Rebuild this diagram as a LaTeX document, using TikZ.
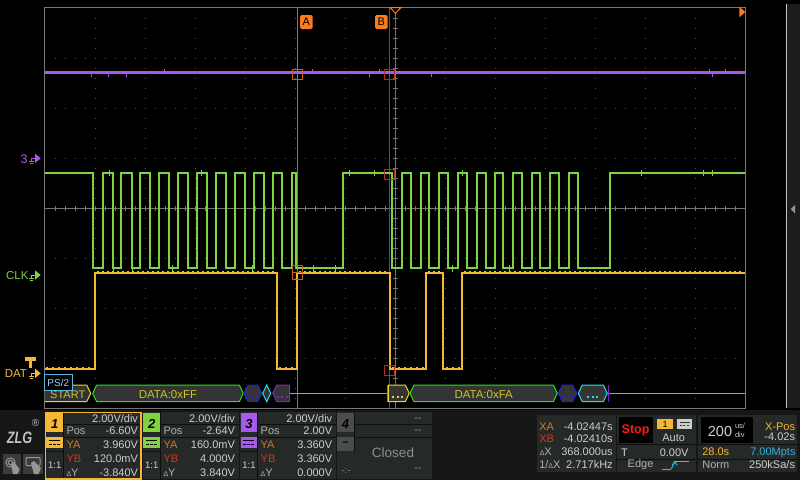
\documentclass[tikz,border=0pt]{standalone}
\usepackage{fontspec}
\setmainfont{Liberation Sans}
\newcommand{\myfs}[1]{\fontsize{#1}{#1}\selectfont}
\definecolor{cpurple}{RGB}{168,88,238}
\definecolor{cgreen}{RGB}{126,212,62}
\definecolor{corange}{RGB}{246,184,52}
\definecolor{curA}{RGB}{196,98,28}
\definecolor{curB}{RGB}{178,46,26}
\definecolor{gridc}{RGB}{88,88,88}
\definecolor{axisc}{RGB}{118,118,118}
\definecolor{bordc}{RGB}{120,120,120}
\definecolor{mkorange}{RGB}{255,122,26}
\definecolor{panelbg}{RGB}{37,41,39}
\definecolor{bottombg}{RGB}{22,22,22}
\definecolor{sepc}{RGB}{14,14,14}
\definecolor{valc}{RGB}{206,206,206}
\definecolor{labc}{RGB}{176,176,176}
\definecolor{yac}{RGB}{214,118,38}
\definecolor{ybc}{RGB}{214,52,34}
\definecolor{decfill}{RGB}{52,52,52}
\definecolor{decy}{RGB}{232,216,36}
\definecolor{decg}{RGB}{36,222,36}
\definecolor{decb}{RGB}{32,32,222}
\definecolor{decc}{RGB}{40,222,236}
\definecolor{decp}{RGB}{132,32,196}
\definecolor{decm}{RGB}{228,64,164}
\definecolor{dect}{RGB}{202,198,40}
\definecolor{declb}{RGB}{84,184,224}
\definecolor{pstext}{RGB}{150,214,244}
\definecolor{stopred}{RGB}{255,26,26}
\definecolor{cyantxt}{RGB}{48,178,224}
\definecolor{gray4}{RGB}{74,77,75}
\definecolor{closedc}{RGB}{140,142,141}
\definecolor{stripc}{RGB}{28,28,28}
\definecolor{logoc}{RGB}{192,192,192}
\definecolor{btnc}{RGB}{58,60,59}
\definecolor{icc}{RGB}{150,150,150}
\newcommand{\decseg}[3]{\filldraw[fill=decfill, draw=#3, line width=1pt] (#1,393.3) -- ({#1+4},385) -- ({#2-4},385) -- (#2,393.3) -- ({#2-4},401.7) -- ({#1+4},401.7) -- cycle;}
\newcommand{\decdots}[2]{\foreach \dd in {-4.5,0,4.5} {\fill[#2] ({#1+\dd-1},395.7) rectangle ++(2,2);}}
\newcommand{\gndmark}[2]{%
  \draw[#2, line width=1pt] (31,#1) -- (36,#1);
  \draw[#2, line width=1pt] (31,#1) -- (31,{#1+3});
  \draw[#2, line width=1pt] (28.5,{#1+3}) -- (33.5,{#1+3});
  \draw[#2, line width=1pt] (29.5,{#1+5.3}) -- (32.5,{#1+5.3});
  \fill[#2] (35,{#1-4.7}) -- (40.7,#1) -- (35,{#1+4.7}) -- cycle;}
\begin{document}
\begin{tikzpicture}[x=1pt,y=-1pt,
  every node/.style={inner sep=0pt, outer sep=0pt},
  val/.style={font=\myfs{11}, text=valc, anchor=base east},
  lab/.style={font=\myfs{11}, text=labc, anchor=base west},
  trace/.style={line width=2pt},
  sep/.style={sepc, line width=1pt}]
\fill[black] (0,0) rectangle (800,480);
\useasboundingbox (0,0) rectangle (800,480);
\fill[bottombg] (0,410) rectangle (800,480);
% right strip
\fill[stripc] (786,4) rectangle (800,408);
\draw[black!75!white!30, line width=0.8pt] (786,4) -- (786,408);
\fill[icc] (795,205) -- (790.7,209.2) -- (795,213.3) -- cycle;
% grid dots
\foreach \gy in {58,108,158,258,308,358} {\foreach \gx in {55,65,...,735} {\fill[gridc] (\gx-0.5,\gy-0.5) rectangle ++(1,1);}}
\foreach \gx in {95,145,195,245,295,345,445,495,545,595,645,695} {\foreach \gy in {18,28,...,398} {\fill[gridc] (\gx-0.5,\gy-0.5) rectangle ++(1,1);}}
% axes
\draw[axisc, line width=1pt] (44.5,208) -- (745.3,208);
\foreach \tx in {55,65,...,735} {\draw[axisc, line width=1pt] (\tx,205.5) -- (\tx,210.5);}
\draw[axisc, line width=1pt] (395.3,7.3) -- (395.3,408.3);
\foreach \ty in {18,28,...,398} {\draw[axisc, line width=1pt] (392.8,\ty) -- (397.8,\ty);}
% border
\draw[bordc, line width=1.2pt] (44.5,7.3) rectangle (745.3,408.3);
% cursors
\draw[curA, line width=1pt] (297.3,7.3) -- (297.3,408.3);
\draw[curB, line width=1pt] (389.3,7.3) -- (389.3,408.3);
% purple trace
\draw[cpurple, line width=2.3pt] (44.5,72.5) -- (745.3,72.5);
\foreach \tx in {91.5,108.5,126.5,369.3,431,712} {\draw[cpurple, line width=1pt] (\tx,72) -- (\tx,76.5);}
\foreach \tx in {164.5,312.3,379.3,709,725} {\draw[cpurple, line width=1pt] (\tx,68.5) -- (\tx,73);}
% green trace
\draw[cgreen, trace] (44.5,173) -| (93,268) -| (102.7,173) -| (112.7,268) -| (121.3,173) -| (131.7,268) -| (140.3,173) -| (150.3,268) -| (159.3,173) -| (169.3,268) -| (178.3,173) -| (188.3,268) -| (197.3,173) -| (207.3,268) -| (216.3,173) -| (226.3,268) -| (235.3,173) -| (245.3,268) -| (254.3,173) -| (264.3,268) -| (273.3,173) -| (282.3,268) -| (292,173) -| (296,268) -| (343.3,173) -| (392,268) -| (402.3,173) -| (411,268) -| (421,173) -| (429.3,268) -| (439.3,173) -| (448.3,268) -| (458.3,173) -| (466.7,268) -| (476.7,173) -| (485.7,268) -| (495,173) -| (503.3,268) -| (513.3,173) -| (522.3,268) -| (531.7,173) -| (540,268) -| (550,173) -| (559,268) -| (569,173) -| (578.3,268) -| (610,173) -- (745.3,173);
\foreach \tx in {109.3,201.3,349.3,374.3,462,641,703,712} {\draw[cgreen, line width=1pt] (\tx,169.5) -- (\tx,176);}
\foreach \tx in {113,132,172,252,302,313,335,452,509} {\draw[cgreen, line width=1pt] (\tx,265) -- (\tx,271.5);}
% orange trace
\draw[corange, trace] (44.5,369) -| (95.3,273) -| (276.7,369) -| (296.5,273) -| (390,369) -| (425.7,273) -| (443.3,369) -| (462.3,273) -- (745.3,273);
\foreach \xa/\xb in {97/275,299/388,428/441,464/744} {\draw[corange, line width=1.2pt, dash pattern=on 2pt off 3pt] (\xa,271.3) -- (\xb,271.3);}
\foreach \xa/\xb in {46/94,279/295,392/424,446/461} {\draw[corange, line width=1.2pt, dash pattern=on 2pt off 4pt] (\xa,367.3) -- (\xb,367.3);}
% cursor intersection boxes
\draw[curA, line width=1pt] (292,69) rectangle (302.7,79.7);
\draw[curB, line width=1pt] (384,69) rectangle (394.7,79.7);
\draw[curB, line width=1pt] (384,169.3) rectangle (394.7,179.7);
\draw[curA, line width=1pt] (292,265.3) rectangle (302.7,279.3);
\draw[curA, line width=1pt] (292,272.3) -- (302.7,272.3);
\draw[curB, line width=1pt] (384,365) rectangle (394.7,375.7);
% cursor labels and markers
\node[fill=mkorange, rounded corners=1.5pt, minimum width=12.5pt, minimum height=14pt, font=\myfs{11}, text=black] (labA) at (306.3,22) {A};
\node[fill=mkorange, rounded corners=1.5pt, minimum width=12.5pt, minimum height=14pt, font=\myfs{11}, text=black] (labB) at (381.3,22) {B};
\filldraw[draw=mkorange, fill=black, line width=1pt] (390,7.6) -- (401,7.6) -- (395.5,13.3) -- cycle;
\fill[mkorange] (739.3,6.7) -- (745.3,12) -- (739.3,17.3) -- cycle;
% left channel markers
\node[font=\myfs{12.5}, text=cpurple, anchor=base east] (m3) at (27.5,163.5) {3};
\gndmark{158.3}{cpurple}
\node[font=\myfs{11.5}, text=cgreen, anchor=base east] (mclk) at (28.5,279) {CLK};
\gndmark{275}{cgreen}
\node[font=\myfs{11.5}, text=corange, anchor=base east] (mdat) at (27,377.7) {DAT};
\gndmark{373.3}{corange}
\fill[corange] (25,357.3) rectangle (35.5,360.7);
\fill[corange] (29,360.5) rectangle (31.7,368.3);
% decode bar
\draw[declb, line width=1pt] (290,393.3) -- (387.3,393.3);
\draw[declb, line width=1pt] (608.3,393.3) -- (745.3,393.3);
\filldraw[fill=decfill, draw=decy, line width=1pt] (44.5,385) -- (86.7,385) -- (90.7,393.3) -- (86.7,401.7) -- (44.5,401.7);
\node[font=\myfs{11}, text=dect] (startT) at (67.7,394.5) {START};
\decseg{92.7}{243.3}{decg}
\node[font=\myfs{11.5}, text=dect] (dataFF) at (168,394.5) {DATA:0xFF};
\decseg{244}{261.7}{decb}
\decdots{252.8}{decb}
\decseg{262.7}{270.7}{decc}
\filldraw[fill=decfill, draw=decp, line width=1pt] (272.7,393.3) -- (276.7,385) -- (289.5,385) -- (289.5,401.7) -- (276.7,401.7) -- cycle;
\decdots{282}{decp}
\node[draw=declb, fill=black, line width=1pt, minimum width=28pt, minimum height=15.7pt, font=\myfs{10}, text=pstext] (ps2) at (58.3,382.8) {PS/2};
\filldraw[fill=decfill, draw=decy, line width=1pt] (388.3,385) -- (405.3,385) -- (409.3,393.3) -- (405.3,401.7) -- (388.3,401.7) -- cycle;
\draw[decm, line width=1.3pt] (387.6,385) -- (387.6,401.7);
\decdots{397.8}{decy}
\decseg{410}{557.3}{decg}
\node[font=\myfs{11.5}, text=dect] (dataFA) at (483.7,394.5) {DATA:0xFA};
\decseg{558.3}{576.7}{decb}
\decdots{567.5}{decb}
\decseg{578.3}{607.3}{decc}
\decdots{592.8}{decc}
\draw[decp, line width=1.3pt] (608.5,385) -- (608.5,401.7);
% ===== bottom panels =====
\foreach \px/\cc/\nn/\vpos/\vya/\vyb/\vdy in {45.5/corange/1/-6.60V/3.960V/120.0mV/-3.840V,142.5/cgreen/2/-2.64V/160.0mV/4.000V/3.840V,239.7/cpurple/3/2.00V/3.360V/3.360V/0.000V}{
  \fill[panelbg] (\px,412) rectangle ({\px+96},479);
  \fill[\cc] ({\px+0.8},413) rectangle ({\px+17.5},432);
  \node[font=\bfseries\itshape\myfs{13}, anchor=base, text=black] (num\nn) at ({\px+9.3},428.7) {\nn};
  \fill[\cc] ({\px+0.8},437) rectangle ({\px+17.5},448);
  \draw[black, line width=1pt] ({\px+3.5},440.5) -- ({\px+14.5},440.5);
  \draw[black, line width=1pt, dash pattern=on 2.5pt off 1.5pt] ({\px+3.5},444) -- ({\px+14.5},444);
  \draw[sep] (\px,451.5) -- ({\px+18},451.5);
  \draw[sep] ({\px+18},412) -- ({\px+18},479);
  \draw[sep] ({\px+18},424.5) -- ({\px+96},424.5);
  \draw[sep] ({\px+18},437) -- ({\px+96},437);
  \node[font=\myfs{9.5}, text=valc, anchor=base] (rt\nn) at ({\px+9.3},468.3) {1:1};
  \node[val] (div\nn) at ({\px+92.5},422.5) {2.00V/div};
  \node[lab] (posl\nn) at ({\px+21},434.5) {Pos};
  \node[val] (posv\nn) at ({\px+92.5},434.5) {\vpos};
  \node[lab, text=yac] (yal\nn) at ({\px+21},448.2) {YA};
  \node[val] (yav\nn) at ({\px+92.5},448.2) {\vya};
  \node[lab, text=ybc] (ybl\nn) at ({\px+21},462) {YB};
  \node[val] (ybv\nn) at ({\px+92.5},462) {\vyb};
  \node[lab] (dyl\nn) at ({\px+21},476) {{\myfs{7}Δ}Y};
  \node[val] (dyv\nn) at ({\px+92.5},476) {\vdy};
}
\draw[corange, line width=1.5pt] (45.7,412.6) rectangle (141.2,479);
% channel 4
\fill[panelbg] (336.5,412) rectangle (432,479);
\fill[gray4] (337.3,413) rectangle (354,432);
\node[font=\bfseries\itshape\myfs{13}, anchor=base, text=black] (num4) at (345.6,428.7) {4};
\fill[gray4] (337.3,437) rectangle (354,451);
\node[font=\bfseries\myfs{11}, text=black] (minus4) at (345.6,443.5) {–};
\draw[sep] (354.5,412) -- (354.5,451.5);
\draw[sep] (354.5,424) -- (432,424);
\draw[sep] (354.5,437) -- (432,437);
\node[val, text=closedc] (c4a) at (421.7,421) {-{}-};
\node[val, text=closedc] (c4b) at (421.7,433.3) {-{}-};
\node[val, text=closedc] (c4c) at (421.7,471.5) {-{}-};
\node[font=\myfs{13.5}, text=closedc] (closed) at (393,452.5) {Closed};
\node[font=\myfs{9.5}, text=closedc, anchor=base] (c4r) at (346,473) {-:-};
% cursor panel
\fill[panelbg] (537,415) rectangle (616,472);
\node[lab, text=yac] (xal) at (539.3,430.7) {XA};
\node[val] (xav) at (612.7,430.7) {-4.02447s};
\node[lab, text=ybc] (xbl) at (539.3,442.8) {XB};
\node[val] (xbv) at (612.7,442.8) {-4.02410s};
\node[lab] (dxl) at (539.8,455.8) {{\myfs{7}Δ}X};
\node[val] (dxv) at (612.7,455.8) {368.000us};
\node[lab] (idxl) at (539.3,468.3) {1/{\myfs{7}Δ}X};
\node[val] (idxv) at (612.7,468.3) {2.717kHz};
% trigger panel
\fill[panelbg] (617,415) rectangle (696,472);
\fill[black] (618.5,417.3) rectangle (652.7,442.7);
\node[font=\bfseries\myfs{12.5}, text=stopred] (stop) at (635.6,430) {Stop};
\fill[corange] (656.7,419) rectangle (673.3,429);
\node[font=\myfs{9}, text=black] (trsrc) at (665,424) {1};
\fill[valc] (677,419) rectangle (692,429);
\draw[black!80, line width=1pt] (679.5,422.3) -- (689.5,422.3);
\draw[black!80, line width=1pt, dash pattern=on 2pt off 1.5pt] (679.5,425.5) -- (689.5,425.5);
\node[font=\myfs{11}, text=valc, anchor=base] (auto) at (673.7,441) {Auto};
\draw[sep] (617,444.5) -- (696,444.5);
\node[lab, text=valc] (tl) at (621,456) {T};
\node[val] (tv) at (688.5,456) {0.00V};
\draw[sep] (617,459.5) -- (696,459.5);
\node[lab] (edge) at (627.7,467) {Edge};
\draw[icc, line width=1pt] (661.7,469) -- (671.3,469);
\draw[cyantxt, line width=1pt] (671.3,469) -- (674.8,461.5);
\draw[cyantxt, line width=1pt] (672.3,465.3) -- (674.8,461.5) -- (677.3,465.3);
\draw[icc, line width=1pt] (674.8,461.5) -- (689.3,461.5);
% time panel
\fill[panelbg] (698,415) rectangle (797,472);
\fill[black] (700.7,417) rectangle (752.7,442.7);
\node[font=\myfs{14.5}, text=valc, anchor=base] (tb) at (720,436) {200};
\node[font=\myfs{7.5}, text=valc, anchor=base west] (tbu) at (735,428) {us/};
\node[font=\myfs{7.5}, text=valc, anchor=base west] (tbd) at (735,437.5) {div};
\node[val, text=corange] (xposl) at (795,430) {X-Pos};
\node[val] (xposv) at (795,440.7) {-4.02s};
\draw[sep] (698,444.5) -- (797,444.5);
\node[lab, text=corange] (len) at (702.3,455.7) {28.0s};
\node[val, text=cyantxt] (pts) at (795.5,455.7) {7.00Mpts};
\draw[sep] (698,459.5) -- (797,459.5);
\node[lab] (norm) at (702.3,468.3) {Norm};
\node[val] (rate) at (795,468.3) {250kSa/s};
% logo
\node[font=\bfseries\itshape\myfs{15}, text=logoc, anchor=base] (logo) at (19.5,443.5) {\scalebox{0.85}[1.1]{ZLG}};
\node[font=\myfs{10}, text=logoc] (reg) at (35.5,423.5) {®};
\fill[btnc] (2.7,454.3) rectangle (20.7,474);
\fill[btnc] (23.3,454.3) rectangle (42.7,474);
\draw[icc, line width=1pt] (10.5,462.5) circle (2.2);
\draw[icc, line width=1pt] (10.5,462.5) circle (4.6);
\fill[icc] (11,464) -- (14,462) -- (19.5,469) -- (17.5,474) -- (13,474) -- cycle;
\draw[icc, line width=1pt, rounded corners=1pt] (26,457.5) rectangle (40,465.5);
\fill[icc] (31,463) -- (34,461) -- (41,468) -- (38.5,474) -- (34,474) -- cycle;
\end{tikzpicture}
\end{document}
